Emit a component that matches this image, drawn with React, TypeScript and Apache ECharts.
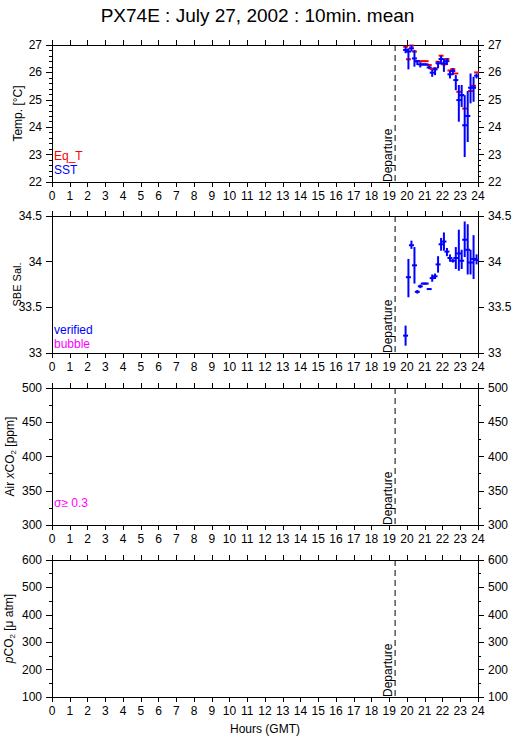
import React, { useEffect, useRef } from 'react';
import * as echarts from 'echarts';

// 10-minute means (hour GMT, centre of interval)
const hours = [19.92, 20.08, 20.25, 20.42, 20.58, 20.75, 20.92, 21.08, 21.25, 21.42, 21.58, 21.75, 21.92, 22.08, 22.25, 22.42, 22.58, 22.75, 22.92, 23.08, 23.25, 23.42, 23.58, 23.75, 23.92];

// Temperature panel
const eqT = [26.94, 26.48, 26.98, 26.76, 26.41, 26.41, 26.41, 26.41, 26.27, 26.12, 26.15, 26.39, 26.61, 26.29, 26.49, 26.07, 26.12, 25.96, 25.29, 25.17, 24.68, 24.41, 25.32, 25.51, 26.0];
const sst = [26.82, 26.76, 26.88, 26.51, 26.41, 26.29, 26.29, 26.29, 26.18, 25.99, 26.11, 26.33, 26.49, 26.33, 26.41, 25.93, 26.05, 25.72, 24.99, 25.17, 24.07, 24.41, 25.44, 25.44, 25.88];
const sstLow = [26.7, 26.11, 26.76, 26.21, 26.27, 26.18, 26.25, 26.25, 26.12, 25.84, 25.9, 26.15, 26.29, 26.02, 26.27, 25.78, 25.9, 25.35, 24.2, 24.74, 22.91, 23.46, 24.87, 24.93, 25.78];
const sstHigh = [26.94, 26.88, 27.0, 26.82, 26.45, 26.37, 26.33, 26.33, 26.24, 26.09, 26.18, 26.41, 26.61, 26.51, 26.51, 26.05, 26.15, 25.9, 25.54, 25.54, 25.17, 25.32, 25.96, 25.84, 25.96];

// Salinity panel (verified)
const salinity = [33.19, 33.83, 34.18, 33.96, 33.67, 33.73, 33.76, 33.76, 33.7, 33.82, 33.84, 33.97, 34.19, 34.22, 34.11, 34.04, 34.01, 34.04, 34.09, 34.01, 34.24, 34.13, 33.99, 34.03, 34.02];
const salLow = [33.08, 33.61, 34.14, 33.76, 33.65, 33.71, 33.75, 33.75, 33.69, 33.78, 33.81, 33.88, 34.12, 34.12, 34.06, 34.0, 33.99, 33.92, 33.9, 33.92, 34.05, 33.86, 33.86, 33.81, 33.97];
const salHigh = [33.3, 34.03, 34.23, 34.16, 33.69, 33.75, 33.77, 33.77, 33.71, 33.86, 33.87, 34.06, 34.26, 34.32, 34.15, 34.08, 34.03, 34.16, 34.35, 34.13, 34.44, 34.41, 34.13, 34.29, 34.08];

const departureHour = [19.33];

const panelNames = ['Temp. [°C]', 'SBE Sal.', 'Air {it|x}CO{sub|2} [ppm]', '{it|p}CO{sub|2} [μ atm]'];
const panelMin = [22, 33, 300, 100];
const panelMax = [27, 34.5, 500, 600];
const panelInterval = [1, 0.5, 50, 100];
const panelMinorSplit = [5, 0, 2, 2];

const FONT = "'Liberation Sans', Arial, Helvetica, sans-serif";
const BLUE = '#0000ff';
const RED = '#ff0000';
const MAGENTA = '#ff00ff';

const gridTops = [45, 216, 388, 560];
const gridHeight = 137;
const gridLeft = 52;
const gridWidth = 426;
const nameGaps = [28, 30, 35, 36];
const nameSizes = [12, 11, 12, 12];

export default function App() {
  const ref = useRef<HTMLDivElement>(null);

  useEffect(() => {
    if (!ref.current) return;
    const chart = echarts.init(ref.current, undefined, { renderer: 'svg' });

    const grids: any[] = [];
    const xAxes: any[] = [];
    const yAxes: any[] = [];
    const series: any[] = [];

    const labelStyle = { color: '#000', fontFamily: FONT, fontSize: 12 };
    const lineStyle = { color: '#000', width: 1 };

    for (let i = 0; i < 4; i++) {
      grids.push({ left: gridLeft, top: gridTops[i], width: gridWidth, height: gridHeight, containLabel: false, outerBoundsMode: 'none' });
      // bottom x
      xAxes.push({
        type: 'value', gridIndex: i, min: 0, max: 24, interval: 1, position: 'bottom',
        axisLine: { show: true, lineStyle, onZero: false },
        axisTick: { show: true, length: 5, lineStyle },
        axisLabel: { ...labelStyle, margin: 8 },
        splitLine: { show: false },
        name: i === 3 ? 'Hours (GMT)' : '',
        nameLocation: 'middle', nameGap: 26, nameMoveOverlap: false,
        nameTextStyle: { color: '#000', fontFamily: FONT, fontSize: 12 },
      });
      // top x
      xAxes.push({
        type: 'value', gridIndex: i, min: 0, max: 24, interval: 1, position: 'top',
        axisLine: { show: true, lineStyle, onZero: false },
        axisTick: { show: true, length: 5, lineStyle },
        axisLabel: { show: false },
        splitLine: { show: false },
      });
      const minor = panelMinorSplit[i];
      const yCommon = {
        type: 'value', gridIndex: i, min: panelMin[i], max: panelMax[i], interval: panelInterval[i],
        axisLine: { show: true, lineStyle, onZero: false },
        axisTick: { show: true, length: 6, lineStyle },
        minorTick: { show: minor > 0, splitNumber: minor || 5, length: 3, lineStyle },
        splitLine: { show: false },
        axisLabel: { ...labelStyle, margin: 10 },
      };
      yAxes.push({
        ...yCommon, position: 'left',
        name: panelNames[i], nameLocation: 'middle', nameGap: nameGaps[i], nameRotate: 90, nameMoveOverlap: false,
        nameTextStyle: {
          color: '#000', fontFamily: FONT, fontSize: nameSizes[i],
          rich: {
            sub: { fontSize: 8, fontFamily: FONT, color: '#000', padding: [6, 0, 0, 0] },
            it: { fontSize: 12, fontFamily: FONT, color: '#000', fontStyle: 'italic' },
          },
        },
      });
      yAxes.push({ ...yCommon, position: 'right' });

      // departure line + label
      series.push({
        type: 'custom', xAxisIndex: 2 * i, yAxisIndex: 2 * i,
        data: departureHour.map((h) => [h, panelMin[i]]),
        silent: true, z: 1,
        renderItem: (params: any, api: any) => {
          const cs = params.coordSys;
          const p = api.coord([api.value(0), api.value(1)]);
          const bottom = cs.y + cs.height;
          return {
            type: 'group',
            children: [
              { type: 'line', shape: { x1: p[0], y1: cs.y, x2: p[0], y2: bottom }, style: { stroke: '#000', lineWidth: 1, lineDash: [6, 4] } },
              {
                type: 'text', x: p[0] - 1, y: bottom, rotation: Math.PI / 2,
                style: { text: 'Departure', fill: '#000', font: `12px ${FONT}`, textAlign: 'left', textVerticalAlign: 'bottom' },
              },
            ],
          };
        },
      });
    }

    const errorBar = (color: string) => (params: any, api: any) => {
      const x = api.value(0);
      const c = api.coord([x, api.value(1)]);
      const lo = api.coord([x, api.value(2)]);
      const hi = api.coord([x, api.value(3)]);
      return {
        type: 'group',
        children: [
          { type: 'line', shape: { x1: c[0], y1: lo[1], x2: c[0], y2: hi[1] }, style: { stroke: color, lineWidth: 2 } },
          { type: 'line', shape: { x1: c[0] - 2.5, y1: c[1], x2: c[0] + 2.5, y2: c[1] }, style: { stroke: color, lineWidth: 2 } },
        ],
      };
    };

    // Eq_T red dashes
    series.push({
      type: 'custom', xAxisIndex: 0, yAxisIndex: 0, z: 2, silent: true,
      data: hours.map((h, k) => [h, eqT[k]]),
      renderItem: (params: any, api: any) => {
        const c = api.coord([api.value(0), api.value(1)]);
        return { type: 'line', shape: { x1: c[0] - 2.5, y1: c[1], x2: c[0] + 2.5, y2: c[1] }, style: { stroke: RED, lineWidth: 2 } };
      },
    });
    // SST blue
    series.push({
      type: 'custom', xAxisIndex: 0, yAxisIndex: 0, z: 3, silent: true,
      data: hours.map((h, k) => [h, sst[k], sstLow[k], sstHigh[k]]),
      renderItem: errorBar(BLUE),
    });
    // Salinity blue
    series.push({
      type: 'custom', xAxisIndex: 2, yAxisIndex: 2, z: 3, silent: true,
      data: hours.map((h, k) => [h, salinity[k], salLow[k], salHigh[k]]),
      renderItem: errorBar(BLUE),
    });

    const legendText = (text: string, color: string, left: number, top: number) => ({
      type: 'text', left, top,
      style: { text, fill: color, font: `12px ${FONT}` },
    });

    chart.setOption({
      animation: false,
      backgroundColor: '#fff',
      title: {
        text: 'PX74E : July 27, 2002 : 10min. mean',
        left: 'center', top: 1,
        textStyle: { color: '#000', fontFamily: FONT, fontSize: 19, fontWeight: 'normal' },
      },
      grid: grids,
      xAxis: xAxes,
      yAxis: yAxes,
      series,
      graphic: [
        legendText('Eq_T', RED, 54, 150),
        legendText('SST', BLUE, 54, 164),
        legendText('verified', BLUE, 54, 324),
        legendText('bubble', MAGENTA, 54, 338),
        legendText('σ≥ 0.3', MAGENTA, 54, 497),
      ],
    });

    return () => chart.dispose();
  }, []);

  return <div ref={ref} style={{ position: 'fixed', left: 0, top: 0, width: 515, height: 739 }} />;
}
